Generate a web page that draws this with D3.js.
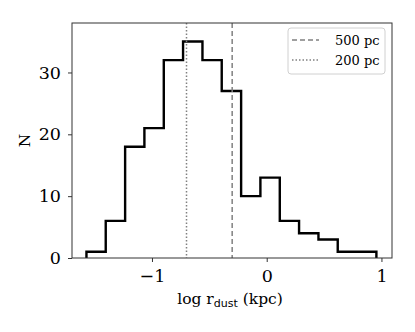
<!DOCTYPE html>
<html>
<head>
<meta charset="utf-8">
<script src="https://cdn.jsdelivr.net/npm/d3@7"></script>
<style>
  body { margin: 0; background: #fff; }
  svg text { font-family: "DejaVu Serif", serif; fill: #000; }
</style>
</head>
<body>
<div id="chart"></div>
<script>
// bin edges (log kpc) and counts
const binEdges = [-1.571, -1.403, -1.234, -1.066, -0.897, -0.729, -0.560, -0.392,
                  -0.223, -0.055, 0.114, 0.282, 0.451, 0.619, 0.788, 0.956];
const counts = [1, 6, 18, 21, 32, 35, 32, 27, 10, 13, 6, 4, 3, 1, 1];
const xTicks = [-1, 0, 1];
const yTicks = [0, 10, 20, 30];
const refLines = [
    { label: '500 pc', value: Math.log10(0.5), dash: '5,3' },
    { label: '200 pc', value: Math.log10(0.2), dash: '1.5,2' }
];

const W = 415, H = 332;
const margin = { top: 23, right: 23, bottom: 74, left: 72 };
const width = W - margin.left - margin.right;
const height = H - margin.top - margin.bottom;

const svg = d3.select('#chart').append('svg')
    .attr('width', W).attr('height', H);
const g = svg.append('g')
    .attr('transform', `translate(${margin.left},${margin.top})`);

const x = d3.scaleLinear().domain([-1.697, 1.092]).range([0, width]);
const y = d3.scaleLinear().domain([0, 38]).range([height, 0]);

// step outline
const pts = [[binEdges[0], 0]];
counts.forEach((c, i) => {
    pts.push([binEdges[i], c]);
    pts.push([binEdges[i + 1], c]);
});
pts.push([binEdges[binEdges.length - 1], 0]);

g.append('path')
    .datum(pts)
    .attr('fill', 'none')
    .attr('stroke', '#000')
    .attr('stroke-width', 2.4)
    .attr('stroke-linejoin', 'miter')
    .attr('d', d3.line().x(d => x(d[0])).y(d => y(d[1])));

// reference lines
refLines.forEach(r => {
    g.append('line')
        .attr('x1', x(r.value)).attr('x2', x(r.value))
        .attr('y1', 0).attr('y2', height)
        .attr('stroke', '#808080')
        .attr('stroke-width', 1.5)
        .attr('stroke-dasharray', r.dash);
});

// axes
const xAxis = g.append('g')
    .attr('transform', `translate(0,${height})`)
    .call(d3.axisBottom(x).tickValues(xTicks).tickSize(4).tickPadding(8)
        .tickFormat(d => d < 0 ? '\u2212' + Math.abs(d) : d));
const yAxis = g.append('g')
    .call(d3.axisLeft(y).tickValues(yTicks).tickSize(4).tickPadding(7));
[xAxis, yAxis].forEach(a => {
    a.select('.domain').remove();
    a.selectAll('text').style('font-family', '"DejaVu Serif", serif').style('font-size', '17.5px');
    a.selectAll('line').attr('stroke', '#333');
});

// frame
g.append('rect')
    .attr('width', width).attr('height', height)
    .attr('fill', 'none').attr('stroke', '#333').attr('stroke-width', 1);

// axis labels
const xl = svg.append('text')
    .attr('x', margin.left + width / 2 - 2)
    .attr('y', 304)
    .attr('text-anchor', 'middle')
    .style('font-size', '15.5px');
xl.append('tspan').text('log r');
xl.append('tspan').text('dust')
    .style('font-family', '"DejaVu Sans", sans-serif')
    .style('font-size', '11px')
    .attr('dy', 3);
xl.append('tspan').text(' (kpc)').attr('dy', -3);

svg.append('text')
    .attr('transform', `translate(30,${margin.top + height / 2}) rotate(-90)`)
    .attr('text-anchor', 'middle')
    .style('font-size', '15.5px')
    .text('N');

// legend
const lg = g.append('g').attr('transform', `translate(${width - 104},5)`);
lg.append('rect')
    .attr('width', 97).attr('height', 46).attr('rx', 3)
    .attr('fill', 'rgba(255,255,255,0.8)')
    .attr('stroke', '#d0d0d0').attr('stroke-width', 1);
refLines.forEach((r, i) => {
    const yy = 12 + i * 20;
    lg.append('line')
        .attr('x1', 4).attr('x2', 31)
        .attr('y1', yy).attr('y2', yy)
        .attr('stroke', '#808080').attr('stroke-width', 1.5)
        .attr('stroke-dasharray', r.dash);
    lg.append('text')
        .attr('x', 47).attr('y', yy + 4.5)
        .style('font-size', '13px')
        .text(r.label);
});
</script>
</body>
</html>
